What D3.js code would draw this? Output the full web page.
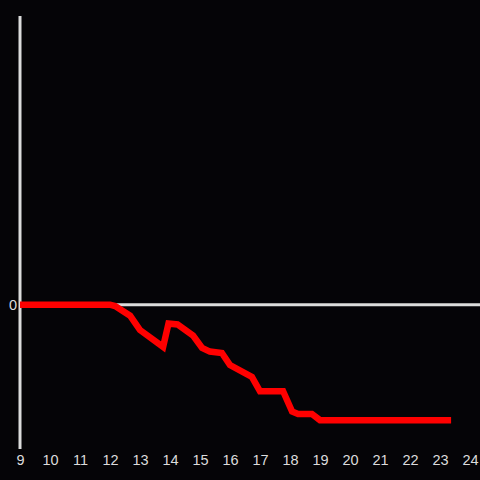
<!DOCTYPE html>
<html>
<head>
<meta charset="utf-8">
<script src="https://cdn.jsdelivr.net/npm/d3@7"></script>
<style>
  html, body { margin: 0; padding: 0; background: #050407; }
  svg { display: block; }
</style>
</head>
<body>
<svg id="chart" width="480" height="480"></svg>
<script>
// hours of the day and the series value at each
const hours = [9, 12, 12.17, 12.67, 13, 13.77, 13.95, 14.25, 14.77, 15.07, 15.33, 15.73, 16,
  16.73, 17, 17.77, 18.07, 18.27, 18.73, 19, 23.37];
const values = [0, 0, -0.01, -0.076, -0.176, -0.293, -0.13, -0.137, -0.215, -0.3, -0.325, -0.335, -0.418,
  -0.5, -0.6, -0.6, -0.74, -0.757, -0.757, -0.8, -0.8];
const xTicks = d3.range(9, 25);
const yTicks = [0];

const svg = d3.select("#chart");
const axisColor = "#dcdcdc";

const x = d3.scaleLinear().domain([9, 24]).range([20, 470]);
const y = d3.scaleLinear().domain([-1, 2]).range([449, 16]);

// zero line
svg.append("line")
    .attr("x1", x(9)).attr("x2", 480)
    .attr("y1", y(0)).attr("y2", y(0))
    .attr("stroke", axisColor)
    .attr("stroke-width", 3);

// vertical axis line
svg.append("line")
    .attr("x1", x(9)).attr("x2", x(9))
    .attr("y1", y(2)).attr("y2", y(-1))
    .attr("stroke", axisColor)
    .attr("stroke-width", 3);

// x labels
let xAxis = svg.append("g")
    .attr("transform", "translate(0,449)")
    .call(d3.axisBottom(x).tickValues(xTicks).tickSize(0).tickPadding(6).tickFormat(d3.format("d")));
xAxis.select(".domain").remove();
xAxis.selectAll("text")
    .attr("fill", axisColor)
    .style("font-family", "'Liberation Sans', Arial, sans-serif")
    .style("font-size", "14.5px");

// y labels
let yAxis = svg.append("g")
    .attr("transform", "translate(17,0)")
    .call(d3.axisLeft(y).tickValues(yTicks).tickSize(0).tickPadding(0).tickFormat(d3.format("d")));
yAxis.select(".domain").remove();
yAxis.selectAll("text")
    .attr("fill", axisColor)
    .style("font-family", "'Liberation Sans', Arial, sans-serif")
    .style("font-size", "14.5px");

const line = d3.line()
    .x((d, i) => x(hours[i]))
    .y(d => y(d));

svg.append("path")
    .datum(values)
    .attr("d", line)
    .attr("fill", "none")
    .attr("stroke", "#ff0000")
    .attr("stroke-width", 6.5);
</script>
</body>
</html>
